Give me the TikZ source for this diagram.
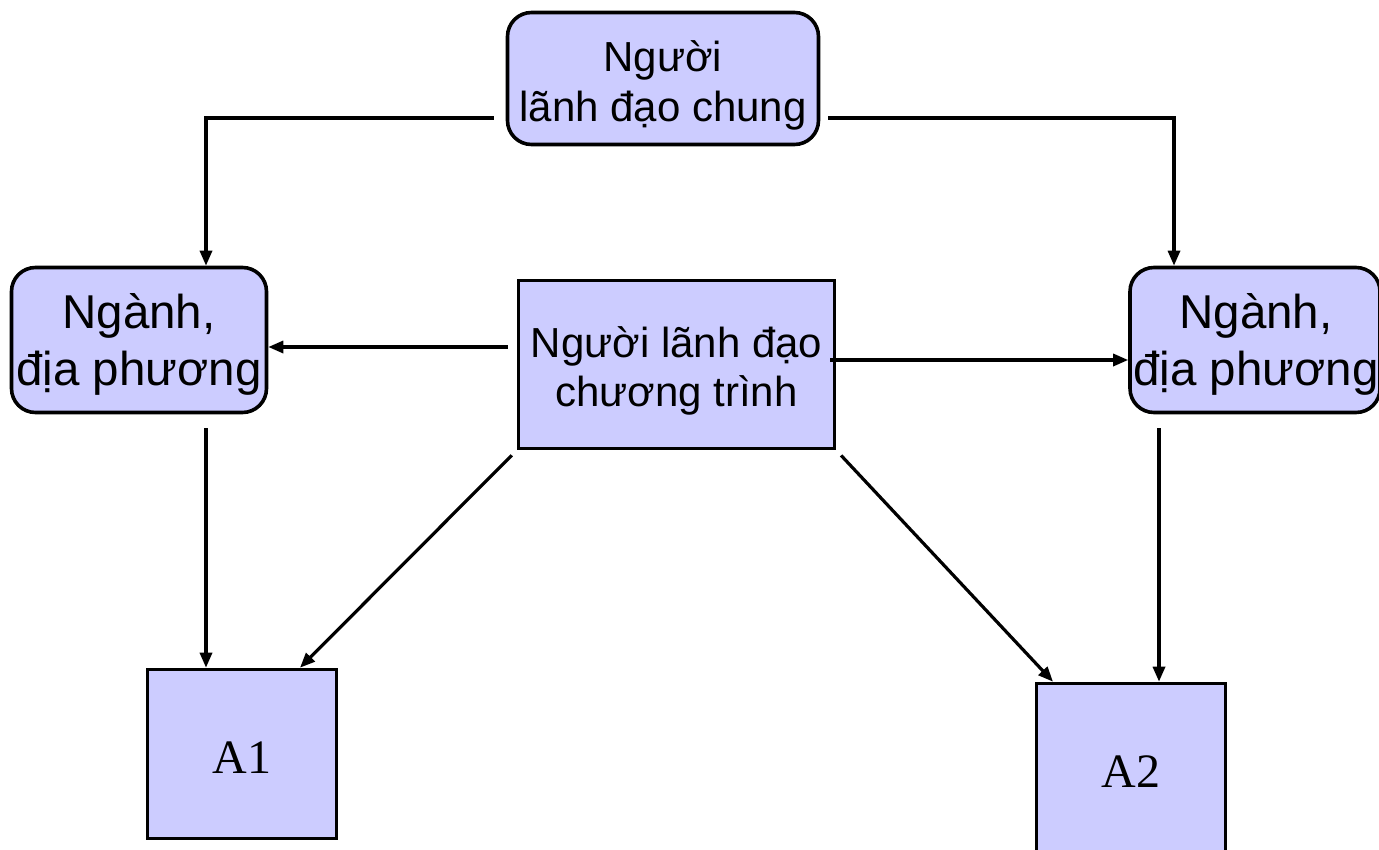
\documentclass[tikz,border=0pt]{standalone}
\usepackage{fontspec}
\setmainfont{Liberation Sans}
\newfontfamily\serifA{Liberation Serif}
\usetikzlibrary{arrows.meta,calc}
\definecolor{boxfill}{RGB}{204,204,255}
\begin{document}
\begin{tikzpicture}[x=1pt,y=-1pt,
  box/.style={draw=black,line width=3.6pt,fill=boxfill,inner sep=0pt},
  rbox/.style={box,rounded corners=24pt},
  txt/.style={align=center,inner sep=0pt},
  arr/.style={line width=3.2pt,-{Triangle[length=15pt,width=12pt]}}]
\useasboundingbox (0,0) rectangle (1379,849);
% boxes
\node[rbox,minimum width=311pt,minimum height=132pt] (top) at (663,78.5) {};
\node[rbox,minimum width=255pt,minimum height=145pt] (left) at (139,340) {};
\node[rbox,minimum width=250pt,minimum height=145pt] (right) at (1255,340) {};
\node[box,minimum width=316pt,minimum height=168pt] (center) at (676.5,364.5) {};
\node[box,minimum width=189pt,minimum height=169pt] (a1) at (242,754) {};
\node[box,minimum width=189pt,minimum height=169pt] (a2) at (1131,768) {};
% texts
\node[txt,font=\fontsize{42}{50}\selectfont] (toptext) at (663,85) {Người\\lãnh đạo chung};
\node[txt,font=\fontsize{47.5}{57}\selectfont] (lefttext) at (139,344) {Ngành,\\địa phương};
\node[txt,font=\fontsize{47.5}{57}\selectfont] (righttext) at (1256,344) {Ngành,\\địa phương};
\node[txt,font=\fontsize{42}{49}\selectfont] (centertext) at (676.5,371) {Người lãnh đạo\\chương trình};
\node[txt,font=\serifA\fontsize{48}{56}\selectfont] (a1text) at (242,758) {A1};
\node[txt,font=\serifA\fontsize{48}{56}\selectfont] (a2text) at (1131,772) {A2};
% connectors
\draw[arr,shorten <=12pt] ($(top.west)+(0,39.5)$) -| (left.north -| 206,0);
\draw[arr,shorten <=8pt] ($(top.east)+(0,39.5)$) -| (right.north -| 1174,0);
\draw[arr,shorten <=9pt] ($(center.west)+(0,-17.5)$) -- (left.east |- 0,347);
\draw[arr,shorten <=-6pt] ($(center.east)+(0,-4.5)$) -- (right.west |- 0,360);
\draw[arr,shorten <=14pt] (left.south -| 206,0) -- (a1.north -| 206,0);
\draw[arr,shorten <=14pt] (right.south -| 1159,0) -- (a2.north -| 1159,0);
\draw[arr,shorten <=7pt] (center.south west) -- (a1.north -| 300,0);
\draw[arr,shorten <=7pt] (center.south east) -- (a2.north -| 1053,0);
\end{tikzpicture}
\end{document}
